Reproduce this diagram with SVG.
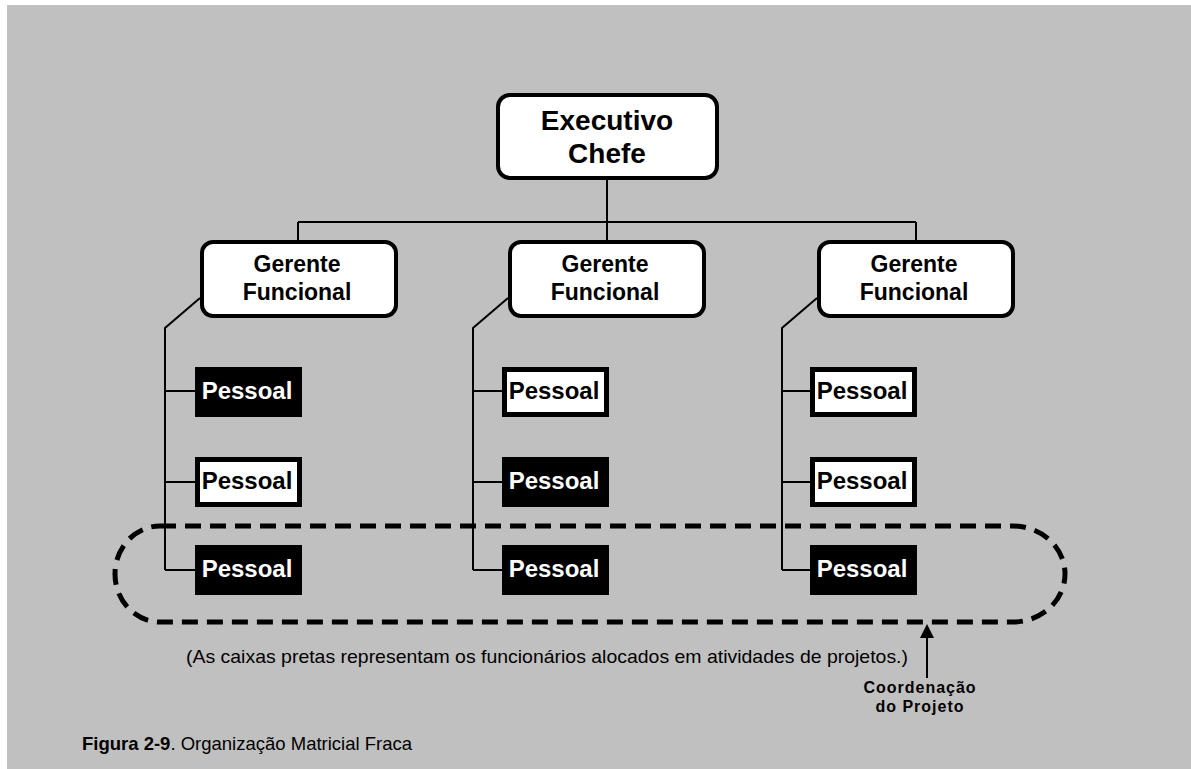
<svg xmlns="http://www.w3.org/2000/svg" width="1191" height="769" viewBox="0 0 1191 769">
<style>
.box{fill:#fff;stroke:#000;stroke-width:4}
.pw{fill:#fff;stroke:#000;stroke-width:5}
.pb{fill:#000;stroke:#000;stroke-width:5}
.t{font-family:"Liberation Sans",Arial,sans-serif;font-weight:bold;text-anchor:middle}
.tp{font-family:"Liberation Sans",Arial,sans-serif;font-weight:bold;font-size:24px;text-anchor:middle}
.ln{stroke:#000;stroke-width:2;fill:none}
</style>
<defs>
<clipPath id="clipc"><rect x="800" y="660" width="250" height="57"/></clipPath>
</defs>
<rect x="0" y="0" width="1191" height="769" fill="#fff"/>
<rect x="7" y="5" width="1184" height="764" fill="#c0c0c0"/>

<g id="connectors">
<path class="ln" d="M607,180 V222 M298,222 H916 M298,222 V240 M607,222 V240 M916,222 V240"/>
<path class="ln" d="M200,298 L165,328 V570 M165,391 H195 M165,482 H195 M165,570 H195"/>
<path class="ln" d="M508,298 L473,328 V570 M473,391 H502 M473,482 H502 M473,570 H502"/>
<path class="ln" d="M817,298 L782,328 V570 M782,391 H810 M782,482 H810 M782,570 H810"/>
</g>

<g id="exec">
<rect class="box" x="498" y="95" width="219" height="83" rx="12"/>
<text class="t" x="607" y="130" font-size="28">Executivo</text>
<text class="t" x="607" y="163" font-size="28">Chefe</text>
</g>

<g id="mgr1">
<rect class="box" x="202" y="242" width="194" height="74" rx="11"/>
<text class="t" x="297" y="272" font-size="23">Gerente</text>
<text class="t" x="297" y="300" font-size="23">Funcional</text>
</g>
<g id="mgr2">
<rect class="box" x="510" y="242" width="194" height="74" rx="11"/>
<text class="t" x="605" y="272" font-size="23">Gerente</text>
<text class="t" x="605" y="300" font-size="23">Funcional</text>
</g>
<g id="mgr3">
<rect class="box" x="819" y="242" width="194" height="74" rx="11"/>
<text class="t" x="914" y="272" font-size="23">Gerente</text>
<text class="t" x="914" y="300" font-size="23">Funcional</text>
</g>

<g id="p11"><rect class="pb" x="197.5" y="369.5" width="102" height="45"/><text class="tp" x="247" y="399" fill="#fff">Pessoal</text></g>
<g id="p12"><rect class="pw" x="197.5" y="459.5" width="102" height="45"/><text class="tp" x="247" y="489" fill="#000">Pessoal</text></g>
<g id="p13"><rect class="pb" x="197.5" y="547.5" width="102" height="45"/><text class="tp" x="247" y="577" fill="#fff">Pessoal</text></g>

<g id="p21"><rect class="pw" x="504.5" y="369.5" width="102" height="45"/><text class="tp" x="554" y="399" fill="#000">Pessoal</text></g>
<g id="p22"><rect class="pb" x="504.5" y="459.5" width="102" height="45"/><text class="tp" x="554" y="489" fill="#fff">Pessoal</text></g>
<g id="p23"><rect class="pb" x="504.5" y="547.5" width="102" height="45"/><text class="tp" x="554" y="577" fill="#fff">Pessoal</text></g>

<g id="p31"><rect class="pw" x="812.5" y="369.5" width="102" height="45"/><text class="tp" x="862" y="399" fill="#000">Pessoal</text></g>
<g id="p32"><rect class="pw" x="812.5" y="459.5" width="102" height="45"/><text class="tp" x="862" y="489" fill="#000">Pessoal</text></g>
<g id="p33"><rect class="pb" x="812.5" y="547.5" width="102" height="45"/><text class="tp" x="862" y="577" fill="#fff">Pessoal</text></g>

<g id="project">
<path d="M160,526 H1013 A52,48 0 0 1 1013,622 H160 A45,48 0 0 1 160,526 Z" fill="none" stroke="#000" stroke-width="5" stroke-dasharray="16 9"/>
<line x1="927" y1="678" x2="927" y2="636" stroke="#000" stroke-width="2"/>
<polygon points="927,624 934,638 920,638" fill="#000"/>
<g clip-path="url(#clipc)">
<text x="920" y="693" font-family="'Liberation Sans',Arial,sans-serif" font-weight="bold" font-size="16" letter-spacing="1" text-anchor="middle">Coordenação</text>
<text x="920" y="712" font-family="'Liberation Sans',Arial,sans-serif" font-weight="bold" font-size="16" letter-spacing="1" text-anchor="middle">do Projeto</text>
</g>
</g>

<text x="186" y="663" font-family="'Liberation Sans',Arial,sans-serif" font-size="19" textLength="722" lengthAdjust="spacingAndGlyphs">(As caixas pretas representam os funcionários alocados em atividades de projetos.)</text>
<text x="82" y="750" font-family="'Liberation Sans',Arial,sans-serif" font-size="18.5"><tspan font-weight="bold">Figura 2-9</tspan>. Organização Matricial Fraca</text>
</svg>
